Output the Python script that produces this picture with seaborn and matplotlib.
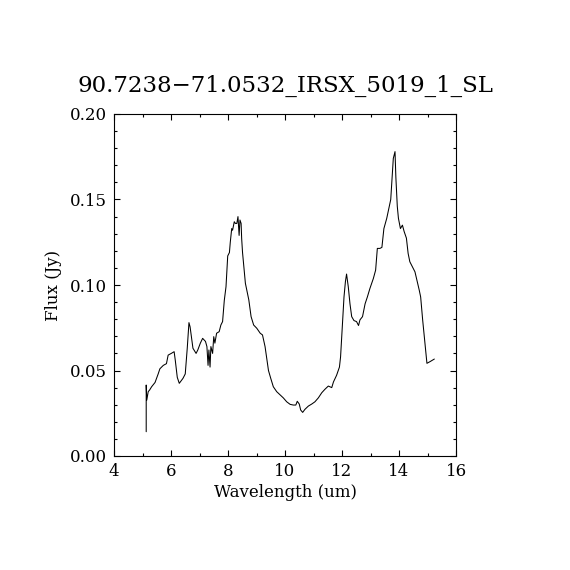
import pandas as pd
import matplotlib
matplotlib.use("Agg")
import matplotlib.pyplot as plt
import seaborn as sns
from matplotlib.ticker import MultipleLocator, FormatStrFormatter

# Spectrum
wavelength = [5.13, 5.13, 5.15, 5.20, 5.25, 5.32, 5.44, 5.55, 5.61, 5.73, 5.84, 5.90,
              6.01, 6.11, 6.15, 6.22, 6.29, 6.42, 6.50, 6.57, 6.63, 6.67, 6.77, 6.88,
              6.94, 7.03, 7.11, 7.21, 7.26, 7.30, 7.33, 7.37, 7.40, 7.46, 7.50, 7.54,
              7.60, 7.69, 7.75, 7.81, 7.87, 7.93, 7.99, 8.05, 8.08, 8.13, 8.16, 8.22,
              8.26, 8.31, 8.35, 8.39, 8.42, 8.46, 8.48, 8.51, 8.61, 8.73, 8.81, 8.90,
              9.01, 9.13, 9.21, 9.30, 9.42, 9.50, 9.59, 9.71, 9.83, 9.94, 10.06, 10.18,
              10.29, 10.38, 10.43, 10.50, 10.55, 10.62, 10.70, 10.82, 10.94, 11.05,
              11.17, 11.29, 11.40, 11.52, 11.64, 11.70, 11.81, 11.91, 11.95, 12.01,
              12.07, 12.12, 12.16, 12.22, 12.28, 12.34, 12.42, 12.51, 12.58, 12.63,
              12.72, 12.81, 12.89, 12.98, 13.10, 13.18, 13.24, 13.33, 13.40, 13.47,
              13.57, 13.66, 13.71, 13.75, 13.80, 13.86, 13.89, 13.94, 13.98, 14.05,
              14.12, 14.18, 14.26, 14.32, 14.38, 14.47, 14.56, 14.64, 14.71, 14.76,
              14.83, 14.91, 14.98, 15.09, 15.24]
flux = [0.0142, 0.0415, 0.0327, 0.0376, 0.0386, 0.0405, 0.0430, 0.0480, 0.0510, 0.0530,
        0.0540, 0.0590, 0.0600, 0.0610, 0.0560, 0.0460, 0.0425, 0.0454, 0.0480, 0.0630,
        0.0780, 0.0755, 0.0630, 0.0600, 0.0620, 0.0660, 0.0688, 0.0670, 0.0640, 0.0530,
        0.0620, 0.0520, 0.0640, 0.0600, 0.0698, 0.0660, 0.0718, 0.0727, 0.0766, 0.0786,
        0.0910, 0.0990, 0.1170, 0.1190, 0.1250, 0.1330, 0.1320, 0.1370, 0.1360, 0.1360,
        0.1400, 0.1290, 0.1380, 0.1360, 0.1270, 0.1190, 0.1010, 0.0913, 0.0815, 0.0766,
        0.0747, 0.0718, 0.0708, 0.0640, 0.0500, 0.0454, 0.0405, 0.0376, 0.0357, 0.0340,
        0.0317, 0.0302, 0.0298, 0.0298, 0.0320, 0.0304, 0.0269, 0.0255, 0.0273, 0.0292,
        0.0304, 0.0317, 0.0340, 0.0370, 0.0390, 0.0409, 0.0400, 0.0433, 0.0472, 0.0520,
        0.0580, 0.0756, 0.0930, 0.1020, 0.1064, 0.0990, 0.0890, 0.0815, 0.0792, 0.0786,
        0.0763, 0.0796, 0.0815, 0.0890, 0.0930, 0.0980, 0.1038, 0.1087, 0.1214, 0.1214,
        0.1220, 0.1330, 0.1390, 0.1460, 0.1500, 0.1610, 0.1740, 0.1780, 0.1630, 0.1460,
        0.1390, 0.1330, 0.1350, 0.1313, 0.1274, 0.1185, 0.1136, 0.1107, 0.1077, 0.1020,
        0.0970, 0.0930, 0.0796, 0.0660, 0.0542, 0.0552, 0.0567]

title = "90.7238\u221271.0532_IRSX_5019_1_SL"

df = pd.DataFrame({"Wavelength": wavelength, "Flux": flux})

sns.set_style("ticks")
plt.rcParams["font.family"] = ["DejaVu Serif"]

fig = plt.figure(figsize=(5.7, 5.7), dpi=100)
ax = fig.add_axes([0.2, 0.2, 0.6, 0.6])
sns.lineplot(data=df, x="Wavelength", y="Flux", sort=False, estimator=None,
             color="black", linewidth=0.75, ax=ax)

ax.set_xlim(4, 16)
ax.set_ylim(0, 0.2)
ax.xaxis.set_major_locator(MultipleLocator(2))
ax.xaxis.set_minor_locator(MultipleLocator(1))
ax.yaxis.set_major_locator(MultipleLocator(0.05))
ax.yaxis.set_minor_locator(MultipleLocator(0.01))
ax.yaxis.set_major_formatter(FormatStrFormatter("%.2f"))
ax.tick_params(which="both", direction="in", top=True, right=True,
               color="black", width=0.8, labelsize=12, labelcolor="black")
ax.tick_params(which="major", length=4.5, pad=5)
ax.tick_params(which="minor", length=2.2)
for s in ax.spines.values():
    s.set_color("black")
    s.set_linewidth(0.8)

ax.set_xlabel("Wavelength (um)", fontsize=12, color="black", labelpad=3)
ax.set_ylabel("Flux (Jy)", fontsize=12, color="black", labelpad=6)
ax.set_title(title, fontsize=16.5, color="black", pad=16)

fig.savefig("out.png", dpi=100, facecolor="white")
